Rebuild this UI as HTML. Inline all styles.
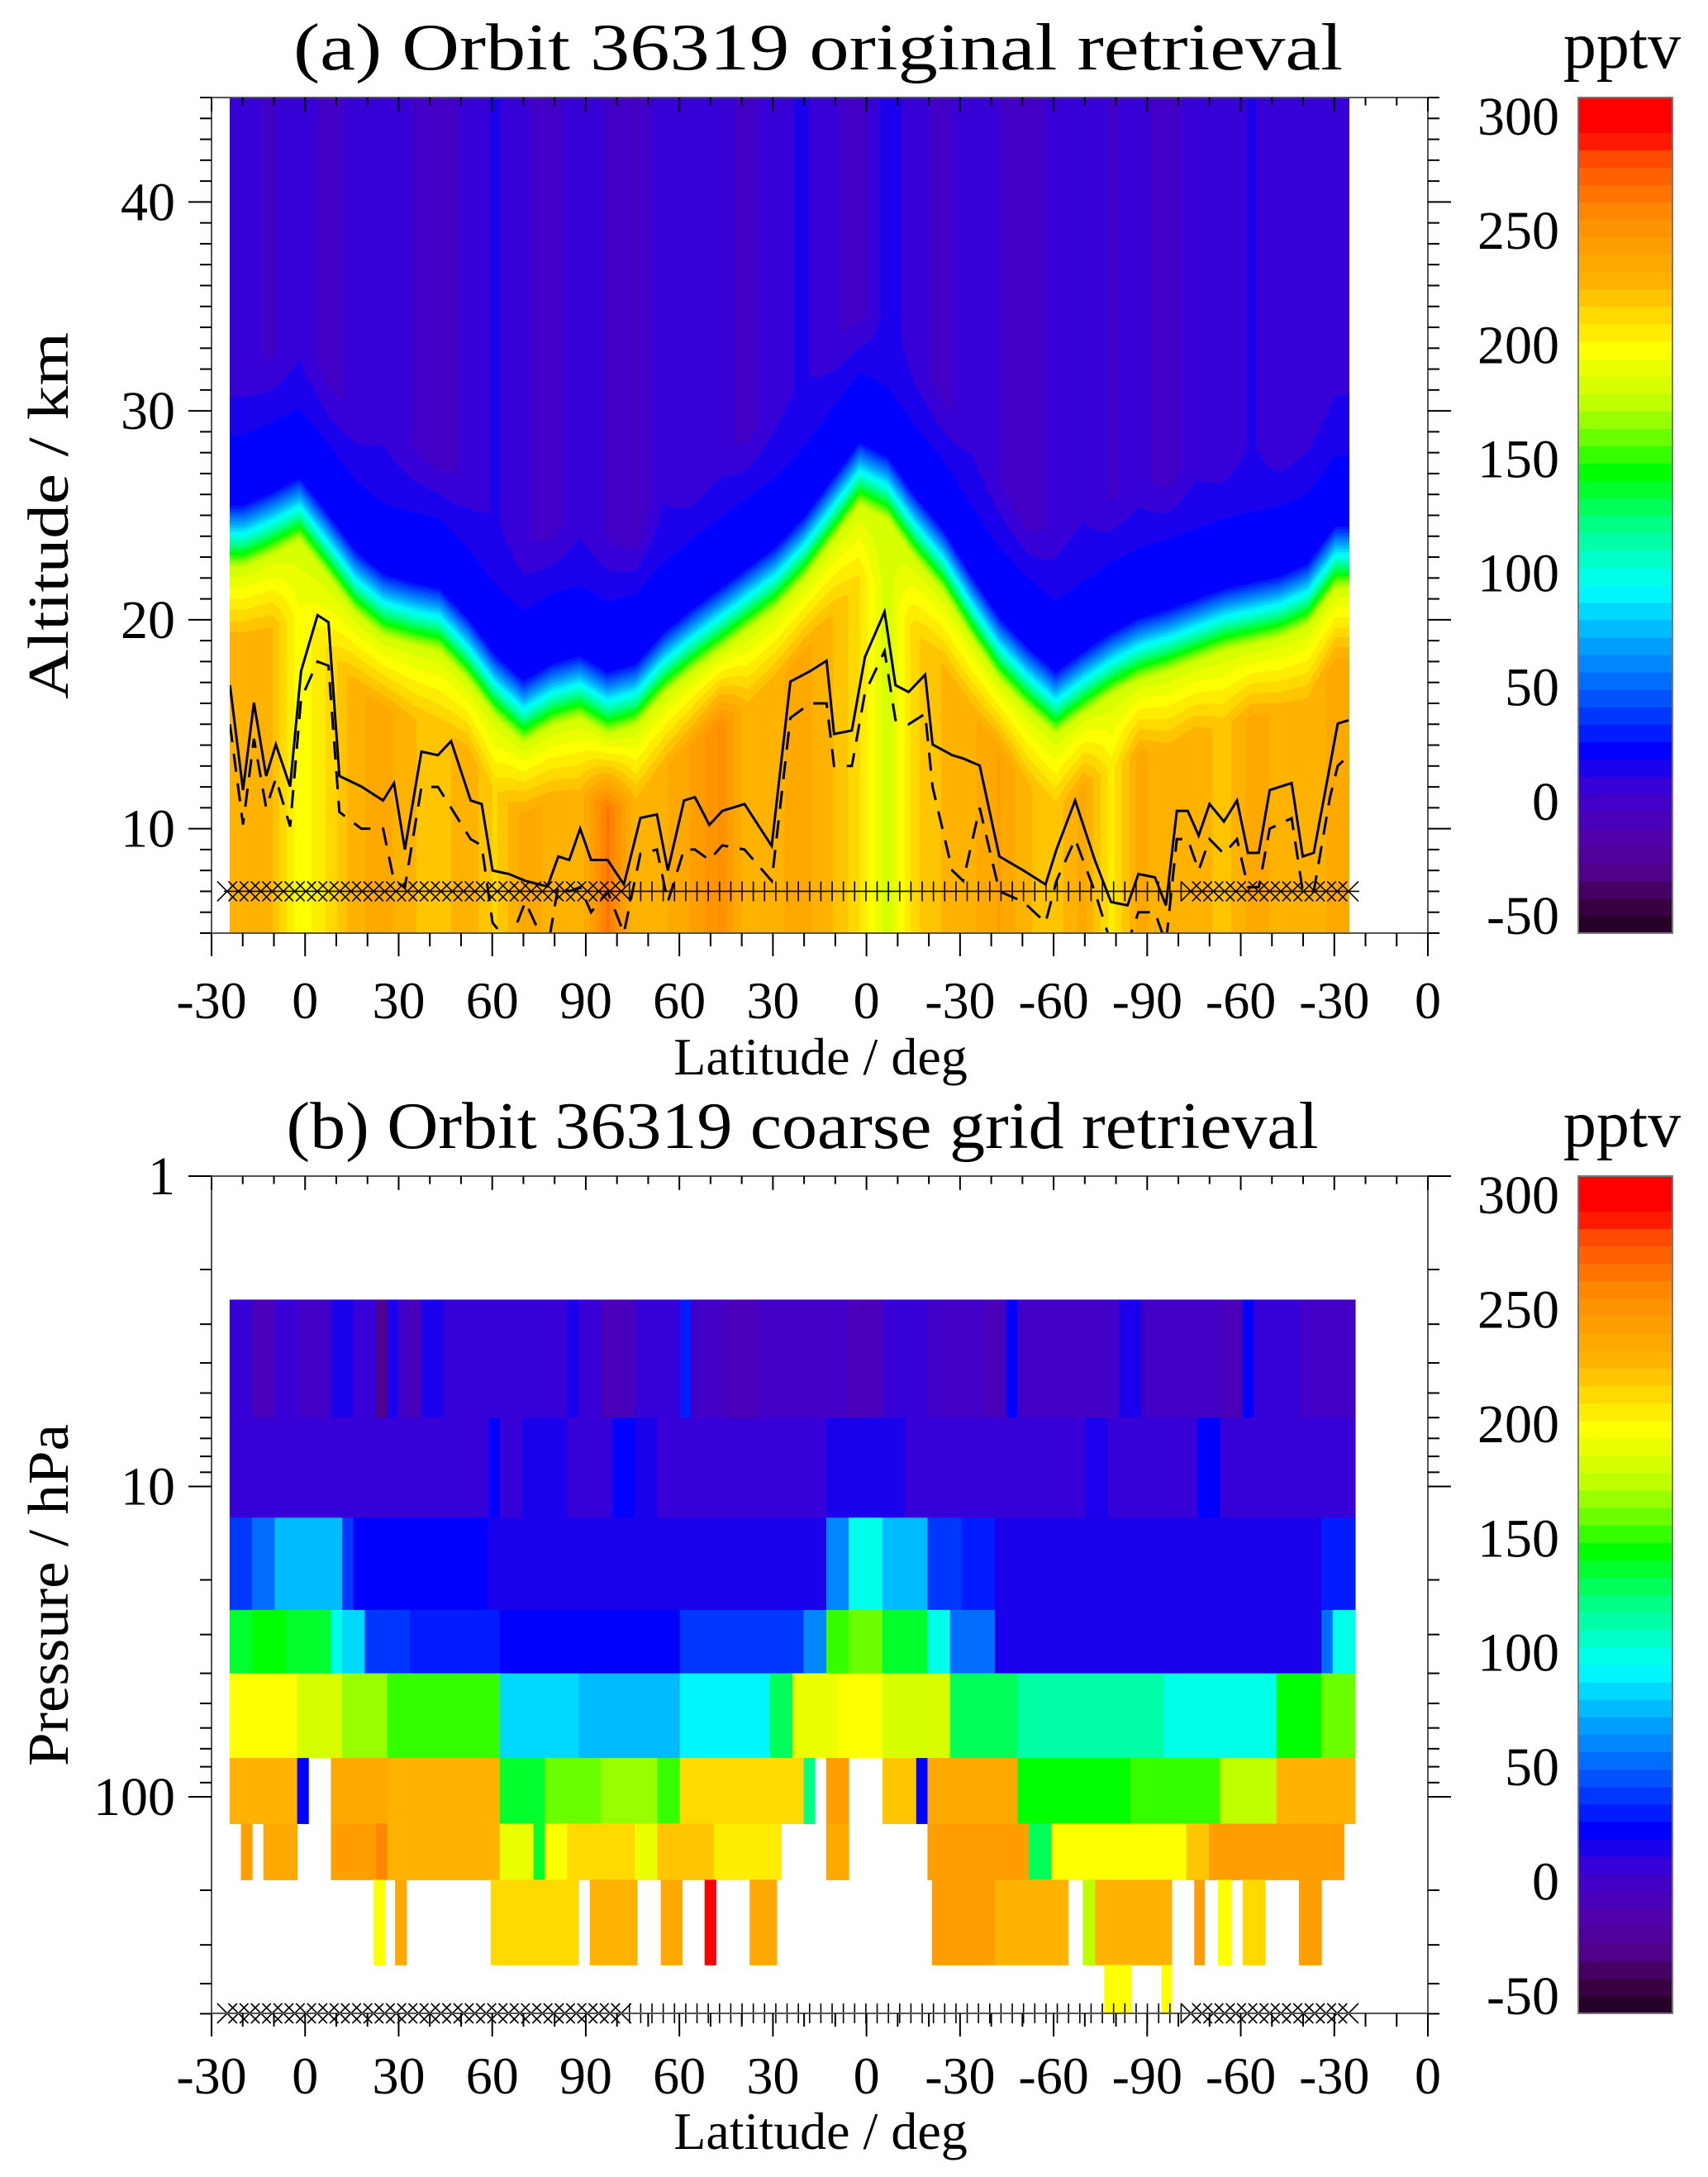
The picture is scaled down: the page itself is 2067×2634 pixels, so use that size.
<!DOCTYPE html>
<html><head><meta charset="utf-8">
<style>
html,body{margin:0;padding:0;background:#fff;}
#wrap{position:relative;width:2067px;height:2634px;overflow:hidden;background:#fff;}
canvas{position:absolute;}
svg{position:absolute;left:0;top:0;}
text{font-family:"Liberation Serif",serif;fill:#000;}
</style></head>
<body>
<div id="wrap">
<canvas id="fieldA" width="1355" height="1011" style="left:278px;top:118px;"></canvas>
<svg id="svg" width="2067" height="2634"></svg>
</div>
<script>
// ---------- data ----------
const xTickLabels = ["-30","0","30","60","90","60","30","0","-30","-60","-90","-60","-30","0"];
const altTicks = [10,20,30,40];
const presTicks = [1,10,100];
const cbTicks = [300,250,200,150,100,50,0,-50];
// panel (a) field: per-column 100-pptv contour altitude (km), tropospheric and upper values (pptv)
const transAlt = [24.0,24.6,25.3,23.6,21.8,20.7,20.3,20.0,18.6,16.8,15.6,16.4,16.8,16.0,16.4,17.9,19.0,20.0,21.0,22.0,23.4,25.2,27.0,26.3,24.4,22.8,20.6,18.6,17.2,16.0,17.0,17.9,18.6,19.0,19.5,20.0,20.3,20.6,21.2,23.0];
const lowerVal = [230,225,195,210,230,235,225,220,230,215,235,230,225,265,225,230,240,255,225,230,235,225,210,180,215,225,230,240,225,220,235,205,235,225,230,220,235,230,225,235];
const upperVal = [5,2,8,0,5,10,3,-3,6,12,4,0,8,2,-5,10,3,6,0,8,12,5,-2,15,6,0,9,3,-4,7,10,2,6,-2,8,4,12,3,6,10];
// solid & dashed lines (track angle deg, altitude km)
const lineTrack = [-24.1,-19.9,-16.4,-12.5,-9.4,-4.8,-1.3,4.0,7.5,11.0,18.0,25.0,28.5,32.0,37.3,42.6,46.8,53.1,56.6,60.1,65.4,70.6,77.7,81.2,84.7,88.2,91.7,97.0,102.2,107.5,112.8,116.3,121.5,125.0,129.6,133.8,140.9,149.6,155.6,161.9,167.2,169.6,175.3,179.5,185.8,189.3,193.5,198.8,201.2,207.5,211.0,216.3,222.6,230.3,237.4,240.9,246.9,253.2,258.4,263.7,267.2,272.5,276.0,279.5,283.0,286.5,290.0,294.6,298.8,302.3,305.8,309.3,316.3,319.9,323.4,328.6,331.1,334.6];
const solidAlt = [16.87,11.85,16.03,12.52,14.03,12.02,17.54,20.22,19.88,12.52,12.02,11.35,12.18,9.00,13.69,13.52,14.19,11.35,11.18,8.00,7.83,7.50,7.23,8.67,8.50,10.0,8.50,8.50,7.33,10.51,10.68,8.00,11.35,11.51,10.18,10.85,11.18,9.17,17.04,17.54,18.04,14.53,14.70,18.21,20.38,16.87,16.54,17.37,14.03,13.52,13.36,13.02,8.67,8.00,7.33,9.00,11.35,8.50,6.49,6.33,7.83,7.67,6.33,10.85,10.85,9.67,11.18,10.34,11.35,8.84,8.84,11.85,12.18,8.67,8.84,13.02,15.03,15.19];
const dashAlt = [15.0,10.2,14.3,11.0,12.4,10.1,16.2,18.0,17.8,10.8,10.0,10.0,7.5,7.2,12.0,12.0,11.0,9.5,9.2,5.5,4.5,6.5,4.2,7.3,7.0,7.2,6.0,7.0,5.0,8.8,9.0,6.5,9.0,9.0,8.5,9.2,9.0,7.5,15.3,16.0,16.0,13.0,13.0,16.5,18.5,15.2,15.0,15.5,12.0,8.0,7.5,11.0,7.0,6.5,5.5,7.5,9.5,7.0,4.5,4.5,6.0,6.0,4.5,9.5,9.5,8.0,9.5,8.8,9.5,7.2,7.2,10.0,10.5,7.0,7.0,11.5,13.0,13.5];
// profile marker ranges (track angle deg)
const markerRanges = [[-25,103,"x"],[104,283,"+"],[284,337,"x"]];
// panel (b) coarse grid: pressure edges (hPa) and runs [colStart, colEnd, pptv] per layer
const presEdges = [2.5,6,12.6,25,40,75,122,185,348,500];
const layerRuns = [
 [[0,2,5],[2,4,-5],[4,6,8],[6,9,0],[9,11,15],[11,13,5],[13,14,-35],[14,15,15],[15,16,0],[16,17,-5],[17,19,18],[19,22,10],[22,30,3],[30,31,15],[31,33,5],[33,36,-5],[36,40,5],[40,41,30],[41,44,0],[44,47,-8],[47,52,2],[52,55,0],[55,58,-5],[58,62,3],[62,67,0],[67,69,-8],[69,70,20],[70,76,0],[76,79,-3],[79,81,18],[81,88,2],[88,90,-5],[90,91,20],[91,95,5],[95,100,2]],
 [[0,23,6],[23,24,25],[24,26,8],[26,30,12],[30,34,5],[34,36,20],[36,38,15],[38,53,8],[53,55,12],[55,60,18],[60,76,6],[76,78,12],[78,86,8],[86,88,20],[88,100,8]],
 [[0,2,40],[2,4,55],[4,10,75],[10,11,40],[11,23,20],[23,53,15],[53,55,60],[55,58,95],[58,62,75],[62,65,40],[65,68,30],[68,97,12],[97,100,30]],
 [[0,2,135],[2,5,145],[5,9,140],[9,10,100],[10,12,85],[12,16,40],[16,24,30],[24,40,22],[40,51,35],[51,53,60],[53,55,150],[55,58,160],[58,62,140],[62,64,100],[64,68,50],[68,97,18],[97,98,50],[98,100,95]],
 [[0,3,195],[3,6,200],[6,10,185],[10,14,165],[14,24,150],[24,31,85],[31,40,75],[40,48,90],[48,50,130],[50,54,190],[54,58,200],[58,64,180],[64,70,125],[70,83,115],[83,93,100],[93,97,145],[97,100,160]],
 [[0,6,225],[6,7,25],[9,14,235],[14,24,225],[24,28,140],[28,33,160],[33,38,170],[38,40,150],[40,51,215],[51,52,120],[53,55,240],[58,61,220],[61,62,25],[62,70,235],[70,80,145],[80,88,155],[88,93,175],[93,100,230]],
 [[1,2,240],[3,6,235],[9,13,240],[13,14,260],[14,24,230],[24,27,190],[27,28,140],[28,30,200],[30,36,215],[36,38,190],[38,43,220],[43,49,205],[53,55,235],[62,71,245],[71,73,130],[73,85,195],[85,87,220],[87,99,240]],
 [[12.8,13.8,195],[14.7,15.7,235],[23.2,31,215],[32,36.2,225],[38.3,40.2,235],[42.2,43.2,300],[46.2,48.6,235],[62.4,68,245],[68,74.5,230],[75.8,76.9,175],[76.9,83.7,225],[85.7,86.6,240],[87.8,89,200],[90,92,215],[95,97,245]],
 [[77.7,80.1,200],[82.8,83.7,195]]
];

// ---------- scales ----------
const AX0=256, AX1=1728;
function xPx(t){return AX0+(t+30)*(AX1-AX0)/390;}
const A_TOP=118, A_BOT=1129;
function yAlt(a){return A_BOT-(a-5)*(A_BOT-A_TOP)/40;}
const B_TOP=1423, B_BOT=2436;
function yP(p){return B_TOP+Math.log10(p)*375.5;}
const VMIN=-58, VMAX=308;
const colTrack0=-24.2, colTrack1=336.7, NCOL=100;
function colX(c){return xPx(colTrack0+c*(colTrack1-colTrack0)/NCOL);}

const stops=[[-58,30,0,30],[-45,60,0,70],[-31,80,0,140],[-16,80,0,170],[5,60,0,210],[22,0,0,255],[47,0,90,255],[71,0,170,255],[93,0,255,255],[120,0,255,140],[144,0,255,0],[161,120,255,0],[176,200,255,0],[198,255,255,0],[227,255,180,0],[256,255,140,0],[280,255,80,0],[293,255,0,0],[308,255,0,0]];
function cmap(v){
  const step=366/48;
  v=VMIN+ (Math.floor((v-VMIN)/step)+0.5)*step;
  if(v<=stops[0][0])return stops[0].slice(1);
  for(let i=1;i<stops.length;i++){
    if(v<=stops[i][0]){const a=stops[i-1],b=stops[i],f=(v-a[0])/(b[0]-a[0]);
      return [a[1]+f*(b[1]-a[1]),a[2]+f*(b[2]-a[2]),a[3]+f*(b[3]-a[3])].map(Math.round);}
  }
  return stops[stops.length-1].slice(1);
}
function rgb(c){return "rgb("+c[0]+","+c[1]+","+c[2]+")";}

// ---------- panel (a) field ----------
(function(){
  const cv=document.getElementById('fieldA'),ctx=cv.getContext('2d');
  const W=cv.width,H=cv.height,img=ctx.createImageData(W,H);
  const n=transAlt.length;
  for(let px=0;px<W;px++){
    let f=(px+0.5)/W*n-0.5; if(f<0)f=0; if(f>n-1)f=n-1;
    const i0=Math.floor(f),i1=Math.min(n-1,i0+1),w=f-i0;
    const h=transAlt[i0]*(1-w)+transAlt[i1]*w;
    const lo=lowerVal[i0]*(1-w)+lowerVal[i1]*w;
    const up=upperVal[i0]*(1-w)+upperVal[i1]*w;
    for(let py=0;py<H;py++){
      const alt=5+(H-py)/H*40, d=alt-h; let v;
      if(d<-5)v=lo; else if(d<-1.5)v=lo+(180-lo)*(d+5)/3.5;
      else if(d<0)v=180+(100-180)*(d+1.5)/1.5;
      else if(d<1.5)v=100+(25-100)*d/1.5;
      else if(d<5)v=25+(18-25)*(d-1.5)/3.5;
      else if(d<8)v=18+(up-18)*(d-5)/3; else v=up;
      const c=cmap(v),k=(py*W+px)*4;
      img.data[k]=c[0];img.data[k+1]=c[1];img.data[k+2]=c[2];img.data[k+3]=255;
    }
  }
  ctx.putImageData(img,0,0);
})();

// ---------- SVG ----------
const NS="http://www.w3.org/2000/svg", svg=document.getElementById('svg');
function el(tag,attrs,parent){const e=document.createElementNS(NS,tag);for(const k in attrs)e.setAttribute(k,attrs[k]);(parent||svg).appendChild(e);return e;}
function txt(s,x,y,size,anchor,parent){const t=el('text',{x:x,y:y,'font-size':size,'text-anchor':anchor||'middle'},parent);t.textContent=s;return t;}

// panel (b) bars
const gB=el('g',{});


layerRuns.forEach((runs,li)=>{
  const y0=yP(presEdges[li]),y1=yP(presEdges[li+1]);
  runs.forEach(r=>{
    const x0=colX(r[0]),x1=colX(r[1]);
    const rc=el('rect',{x:x0,y:y0,width:x1-x0+0.5,height:y1-y0+0.5,fill:rgb(cmap(r[2]))},gB);
    
    
  });
});

// lines panel (a)
const clip=el('clipPath',{id:'clipA'});el('rect',{x:278,y:A_TOP,width:1355,height:A_BOT-A_TOP},clip);
const solidPts=lineTrack.map((t,i)=>xPx(t).toFixed(1)+","+yAlt(solidAlt[i]).toFixed(1)).join(" ");
const dashPts=lineTrack.map((t,i)=>xPx(t).toFixed(1)+","+yAlt(dashAlt[i]).toFixed(1)).join(" ");
const sl=el('polyline',{points:solidPts,fill:'none',stroke:'#000','stroke-width':3,'clip-path':'url(#clipA)'});


const dl=el('polyline',{points:dashPts,fill:'none',stroke:'#000','stroke-width':3,'stroke-dasharray':'22,14','clip-path':'url(#clipA)'});



// profile markers
function markers(yc,name){
  const g=el('g',{stroke:'#000','stroke-width':1.6,fill:'none'});
  
  
  el('line',{x1:xPx(-26),x2:xPx(338),y1:yc,y2:yc},g);
  markerRanges.forEach(r=>{
    for(let t=r[0];t<=r[1];t+=3.61){
      const x=xPx(t),s=12;
      if(r[2]==="x"){el('line',{x1:x-s,y1:yc-s,x2:x+s,y2:yc+s},g);el('line',{x1:x-s,y1:yc+s,x2:x+s,y2:yc-s},g);}
      else{el('line',{x1:x,y1:yc-s,x2:x,y2:yc+s},g);}
    }
  });
}
markers(yAlt(7),'profile-markers-a');
markers(B_BOT,'profile-markers-b');

// axes
function axesBox(top,bot,name){
  const g=el('g',{stroke:'#000','stroke-width':2,fill:'none'});
  
  
  el('rect',{x:AX0,y:top,width:AX1-AX0,height:bot-top,stroke:'#555'},g);
  for(let i=0;i<=39;i++){const x=xPx(-30+i*10),L=(i%3==0)?28:16;
    el('line',{x1:x,x2:x,y1:bot,y2:bot+L},g); el('line',{x1:x,x2:x,y1:top,y2:top+(L*0.6)},g);}
  return g;
}
const gA=axesBox(A_TOP,A_BOT,'axes-a');
for(let a=5;a<=45;a++){const y=yAlt(a),L=(a%10==0)?28:14;
  el('line',{x1:AX0-L,x2:AX0,y1:y,y2:y},gA);el('line',{x1:AX1,x2:AX1+L,y1:y,y2:y},gA);}
const gBx=axesBox(B_TOP,B_BOT,'axes-b');
for(let d=0;d<3;d++)for(let m=1;m<=9;m++){const p=Math.pow(10,d)*m;if(p>500)continue;const y=yP(p),L=(m==1)?28:14;
  el('line',{x1:AX0-L,x2:AX0,y1:y,y2:y},gBx);el('line',{x1:AX1,x2:AX1+L,y1:y,y2:y},gBx);}

// tick labels
[[1232,'x-tick-labels-a'],[2533,'x-tick-labels-b']].forEach(([yb,nm])=>{
  const g=el('g',{});
  xTickLabels.forEach((s,i)=>txt(s,xPx(-30+i*30),yb,64,'middle',g));
});
const gya=el('g',{});
altTicks.forEach(a=>txt(String(a),212,yAlt(a)+22,66,'end',gya));
const gyb=el('g',{});
presTicks.forEach(p=>txt(String(p),212,yP(p)+22,66,'end',gyb));

// colorbars
function colorbar(top,bot,name){
  const g=el('g',{});
  const n=48,step=(VMAX-VMIN)/n;
  for(let i=0;i<n;i++){const v0=VMIN+i*step;const y1=bot-(i)*(bot-top)/n,y0=bot-(i+1)*(bot-top)/n;
    el('rect',{x:1910,y:y0,width:114,height:y1-y0+0.6,fill:rgb(cmap(v0+step/2))},g);}
  el('rect',{x:1910,y:top,width:114,height:bot-top,fill:'none',stroke:'#777','stroke-width':2},g);
  cbTicks.forEach(v=>{const y=bot-(v-VMIN)/(VMAX-VMIN)*(bot-top);txt(String(v),1887,y+23,66,'end',g);});
}
colorbar(A_TOP,A_BOT,'colorbar-a');
colorbar(B_TOP,B_BOT,'colorbar-b');

// titles
let t;
t=txt('(a) Orbit 36319 original retrieval',990,84,80);t.setAttribute('textLength','1270');t.setAttribute('lengthAdjust','spacingAndGlyphs');

t=txt('(b) Orbit 36319 coarse grid retrieval',971,1389,80);t.setAttribute('textLength','1249');t.setAttribute('lengthAdjust','spacingAndGlyphs');

t=txt('pptv',1963,82,80);
t=txt('pptv',1963,1387,80);
t=txt('Latitude /  deg',993,1300,64);
t=txt('Latitude /  deg',993,2600,64);
t=txt('Altitude /  km',0,0,70);t.setAttribute('transform','translate(82,624) rotate(-90)');t.setAttribute('textLength','444');t.setAttribute('lengthAdjust','spacingAndGlyphs');

t=txt('Pressure /  hPa',0,0,70);t.setAttribute('transform','translate(82,1930) rotate(-90)');t.setAttribute('textLength','414');t.setAttribute('lengthAdjust','spacingAndGlyphs');

</script>
</body></html>
